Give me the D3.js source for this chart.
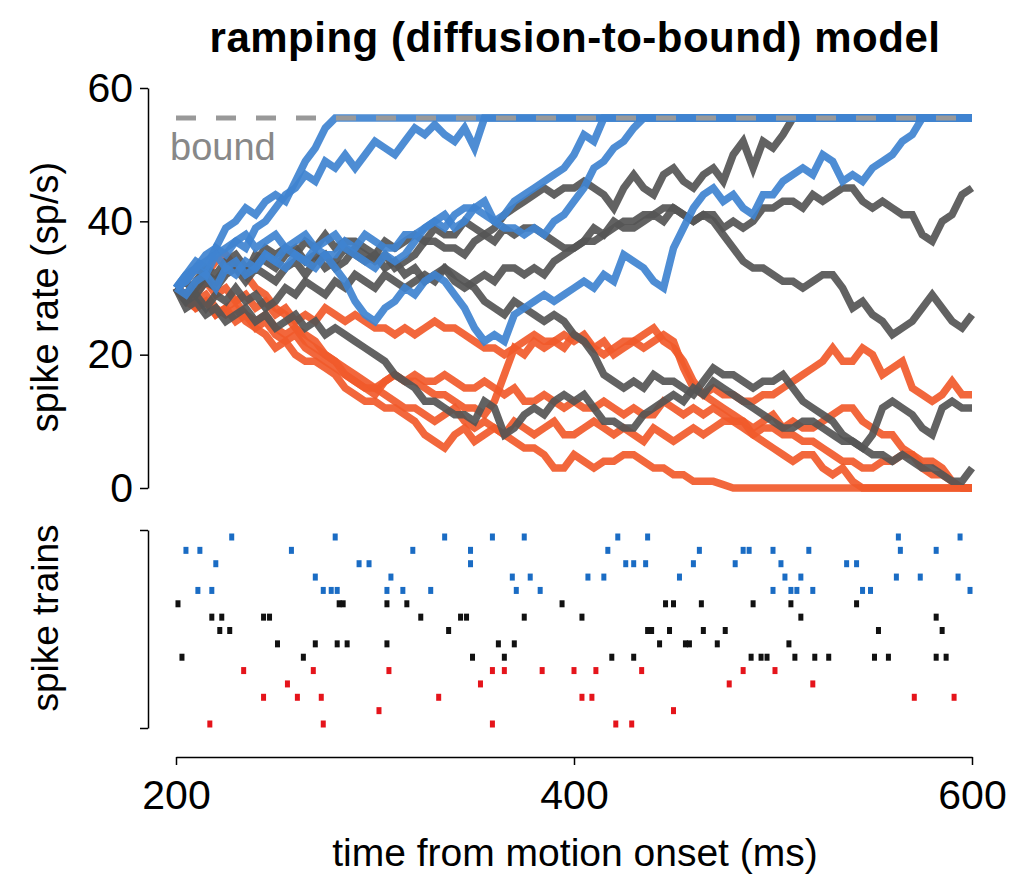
<!DOCTYPE html>
<html>
<head>
<meta charset="utf-8">
<script src="https://cdn.jsdelivr.net/npm/d3@7"></script>
<style>
  body { margin: 0; background: #fff; }
  svg { font-family: "Liberation Sans", Arial, sans-serif; }
  .axis path, .axis line { stroke: #000; stroke-width: 1.5; }
  .axis text { fill: #000; font-size: 41px; font-family: "Liberation Sans", Arial, sans-serif; }
</style>
</head>
<body>
<div id="chart"></div>
<script>
// ---- data (spike rate in sp/s, sampled every 5 ms from 200 ms) ----
const tStart = 200;
const tStep = 5;
const bound = 55.5;

const blue1 = [30,32,33,35,36,39,40,42,41,43,44,43,46,49,51,54,55.5];
const blue2 = [30,31,33,32,35,36,37,36,39,40,42,44,45,47,46,49,48,50,48,50,52,51,50,52,54,53,54.5,53,52,54,51,55.5];
const blue3 = [30,32,34,33,36,35,37,38,36,37,38,36,37,38,36,37,38,36,35,34,33,35,34,35,37,39,40,41,39,40,42,41,40,41,43,44,45,46,47,48,50,53,52,55.5];
const blue4 = [30,31,33,34,35,33,34,32,33,35,34,36,35,34,33,35,35,37,36,38,37,36,36,38,38,39,40,39,41,42,42,43,40,39,39,38,39,38,40,41,43,45,48,49,51,52,54,55.5];
const blue5 = [30,29,31,32,30,33,32,34,33,35,34,33,35,34,36,35,33,31,28,26,25,27,28,30,29,31,32,31,29,27,24,22,23,22,26,27,28,29,28,29,30,31,30,32,31,35,34,33,31,30,36,39,42,44,45,43,44,42,41,44,44,46,47,48,47,50,49,46,47,46,48,49,50,52,53,55.5];

const gray1 = [30,29,31,33,32,34,35,33,34,36,35,36,35,37,36,38,36,37,37,36,35,37,36,37,38,37,39,38,38,40,39,38,39,41,42,43,44,45,44,45,45,46,45,44,42,45,47,45,44,47,48,46,45,47,48,46,50,52,48,52,51,53,55.5];
const gray2 = [30,31,29,31,30,32,33,31,33,32,31,33,34,32,34,35,33,34,36,35,34,35,33,34,35,37,37,36,36,35,37,38,37,39,38,39,39,38,37,36,36,37,37,38,39,40,40,41,41,42,42,41,40,41,41,39,40,39,40,42,42,43,43,42,44,43,44,45,45,43,42,43,42,41,41,38,37,40,41,44,45];
const gray3 = [30,28,30,32,31,33,34,32,35,34,33,35,36,34,35,33,34,36,35,34,35,33,34,32,33,31,32,33,31,30,31,32,31,33,33,32,33,32,34,35,36,37,39,38,40,39,39,40,41,40,42,41,40,41,40,38,36,34,33,33,32,31,31,30,31,32,32,30,27,28,26,25,23,24,25,27,29,27,25,24,26];
const gray4 = [30,28,29,27,29,28,30,28,29,27,28,30,29,31,30,29,31,30,32,31,30,32,31,30,31,32,31,33,32,31,30,28,27,26,28,27,26,25,26,25,23,22,20,17,16,15,16,15,17,16,16,15,14,16,18,17,17,16,15,16,16,17,15,13,12,11,10,8,7,6,8,12,13,12,11,9,8,12,13,12,12];
const gray5 = [30,27,28,26,27,25,26,27,25,26,24,25,26,24,25,23,24,23,22,21,20,19,17,16,15,13,13,12,11,11,10,13,12,8,9,11,12,11,13,14,13,14,12,10,10,9,9,11,12,13,14,13,15,14,16,15,14,13,12,11,10,9,9,10,10,9,8,7,7,6,5,5,4,5,4,3,3,2,1,1,3];

const red1 = [30,31,33,32,34,35,33,32,30,29,27,26,24,23,22,20,19,17,16,15,15,16,17,16,16,15,14,14,13,12,12,11,13,17,21,20,22,21,22,21,23,22,21,20,21,22,22,23,24,22,21,19,16,14,15,14,14,13,13,14,14,15,16,17,18,19,21,19,19,21,20,17,18,19,15,14,13,14,16,14,14];
const red2 = [30,28,29,31,29,30,28,29,27,28,26,27,25,26,25,27,26,25,26,25,24,24,23,24,23,24,25,24,24,23,22,21,21,20,21,22,23,22,22,23,22,23,21,22,20,21,22,21,22,23,22,18,15,14,13,12,11,10,8,7,6,5,4,5,5,3,2,3,1,0];
const red3 = [30,28,27,28,26,27,25,26,24,25,23,22,23,21,20,19,18,17,16,15,14,16,17,16,17,16,16,17,16,15,15,16,15,14,15,13,13,14,13,12,13,12,12,13,12,11,12,11,11,13,12,11,12,11,12,11,10,10,9,10,11,9,10,9,9,10,11,12,12,10,9,8,8,6,5,4,4,3,1,0];
const red4 = [30,29,27,28,26,27,28,26,25,26,24,23,24,22,21,20,19,18,17,16,15,14,13,12,12,11,10,11,12,10,9,10,9,8,10,9,8,9,10,8,8,9,10,9,8,9,8,7,9,8,7,8,9,8,9,10,10,9,8,9,9,8,8,7,7,6,5,4,4,3,3,4,4,5,5,3,2,2,1,0];
const red5 = [30,29,28,29,27,26,27,25,24,23,21,22,20,19,19,18,17,15,14,13,13,12,12,11,10,8,7,6,8,9,7,8,9,8,7,6,6,5,3,3,5,4,3,4,4,5,5,4,3,3,2,2,1,1,1,0.5,0];

const blueTraces = [blue1, blue2, blue3, blue4, blue5];
const grayTraces = [gray1, gray2, gray3, gray4, gray5];
const redTraces = [red1, red2, red3, red4, red5];

// spike times (ms), one list per trial row, top to bottom
const blueSpikes = [
  [228,280,335,359,375,422,437,563,594],
  [205,212,258,319,348,417,463,485,488,500,518,564,582],
  [220,292,297,348,426,430,436,460,481,504,537,542],
  [270,308,369,378,407,415,453,506,514,562,574,593],
  [211,218,274,278,281,306,314,328,371,383,500,509,512,520,545,549,599]
];
const blackSpikes = [
  [201,282,284,306,316,394,446,450,464,490,509,542],
  [218,223,244,247,323,343,346,375,404,514,582],
  [222,227,337,437,439,448,465,476,553,585],
  [251,270,281,286,306,362,370,443,456,458,472,508],
  [203,264,349,365,419,430,489,494,497,511,521,528,551,558,582,587]
];
const redSpikes = [
  [234,269,307,359,365,384,400,411,434,485,501],
  [256,353,478,520],
  [244,261,273,332,404,409,571,591],
  [302,450],
  [217,274,359,421,429]
];

const xTicks = [200, 400, 600];
const yTicks = [0, 20, 40, 60];

// ---- drawing ----
const width = 1010, height = 877;
const svg = d3.select("#chart").append("svg")
    .attr("width", width)
    .attr("height", height);

const x = d3.scaleLinear().domain([200, 600]).range([176, 972]);
const y = d3.scaleLinear().domain([0, 60]).range([488, 88]);

function toPoints(vals) {
    const pts = vals.map((v, i) => [tStart + i * tStep, v]);
    const last = vals[vals.length - 1];
    // absorbed traces stay at the bound (or at zero) until the end
    if ((last === bound || last === 0) && pts[pts.length - 1][0] < 600) pts.push([600, last]);
    return pts;
}

const line = d3.line()
    .x(d => x(d[0]))
    .y(d => y(d[1]));

function drawTraces(traces, color) {
    svg.append("g")
        .selectAll("path")
        .data(traces)
        .enter().append("path")
        .attr("d", d => line(toPoints(d)))
        .attr("fill", "none")
        .attr("stroke", color)
        .attr("stroke-width", 7.5)
        .attr("stroke-linejoin", "miter")
        .attr("stroke-opacity", 0.92);
}

drawTraces(redTraces, "#f15a2b");
drawTraces(grayTraces, "#555555");
drawTraces(blueTraces, "#3f83d0");

// bound
svg.append("line")
    .attr("x1", x(200)).attr("x2", x(600))
    .attr("y1", y(bound)).attr("y2", y(bound))
    .attr("stroke", "#999")
    .attr("stroke-width", 5)
    .attr("stroke-dasharray", "20,20");

svg.append("text")
    .attr("x", 170)
    .attr("y", 160)
    .attr("fill", "#888")
    .attr("font-size", 38)
    .text("bound");

// axes
svg.append("g")
    .attr("class", "axis")
    .attr("transform", "translate(148,0)")
    .call(d3.axisLeft(y).tickValues(yTicks).tickSize(8).tickSizeOuter(0).tickPadding(7));

const rowY = d3.scaleLinear().domain([0, 14]).range([537, 724]);
const rasterAxis = d3.scaleLinear().domain([0, 1]).range([728, 530]);
svg.append("g")
    .attr("class", "axis")
    .attr("transform", "translate(148,0)")
    .call(d3.axisLeft(rasterAxis).tickValues([0, 1]).tickFormat("").tickSize(8).tickSizeOuter(0));

svg.append("g")
    .attr("class", "axis")
    .attr("transform", "translate(0,757)")
    .call(d3.axisBottom(x).tickValues(xTicks).tickSize(8).tickSizeOuter(0).tickPadding(15));

// spike trains
const rows = [];
blueSpikes.forEach(r => rows.push({ times: r, color: "#1a6cc4" }));
blackSpikes.forEach(r => rows.push({ times: r, color: "#111111" }));
redSpikes.forEach(r => rows.push({ times: r, color: "#e5141b" }));

const spikes = [];
rows.forEach((r, i) => r.times.forEach(t => spikes.push({ t: t, row: i, color: r.color })));

svg.append("g")
    .selectAll("rect")
    .data(spikes)
    .enter().append("rect")
    .attr("x", d => x(d.t) - 2.5)
    .attr("y", d => rowY(d.row) - 3.5)
    .attr("width", 5)
    .attr("height", 7)
    .attr("fill", d => d.color);

// titles
svg.append("text")
    .attr("x", 575)
    .attr("y", 52)
    .attr("text-anchor", "middle")
    .attr("font-size", 42)
    .attr("font-weight", "bold")
    .attr("letter-spacing", 0.5)
    .text("ramping (diffusion-to-bound) model");

svg.append("text")
    .attr("transform", "translate(58,297) rotate(-90)")
    .attr("text-anchor", "middle")
    .attr("font-size", 38)
    .text("spike rate (sp/s)");

svg.append("text")
    .attr("transform", "translate(58,618) rotate(-90)")
    .attr("text-anchor", "middle")
    .attr("font-size", 37)
    .text("spike trains");

svg.append("text")
    .attr("x", 575)
    .attr("y", 866)
    .attr("text-anchor", "middle")
    .attr("font-size", 39)
    .text("time from motion onset (ms)");
</script>
</body>
</html>
